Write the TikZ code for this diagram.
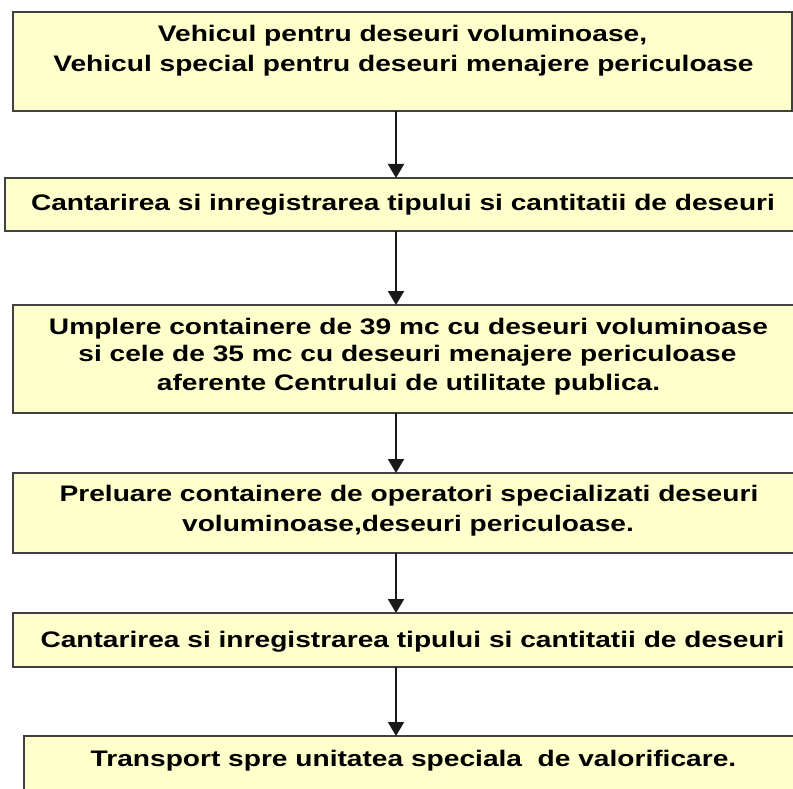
\documentclass[tikz,border=0pt]{standalone}
\usepackage{fontspec}
\setmainfont{Liberation Sans}[FakeStretch=1.25]
\usetikzlibrary{arrows.meta}
\definecolor{boxfill}{HTML}{FFFFCC}
\definecolor{boxline}{HTML}{404040}
\definecolor{arrline}{HTML}{1A1A1A}
\begin{document}
\begin{tikzpicture}[x=1pt,y=-1pt,
  stepbox/.style={draw=boxline,fill=boxfill,line width=2pt,inner sep=0pt,outer sep=0pt,rectangle},
  linetxt/.style={anchor=base,inner sep=0pt,font=\fontsize{22.5}{30}\selectfont\bfseries},
  arr/.style={draw=arrline,line width=2pt,-{Triangle[width=16pt,length=14pt]}}]
\clip (0,0) rectangle (793,789);
\fill[white] (0,0) rectangle (793,789);
\coordinate (ax) at (396,0);
% boxes
\node[stepbox,minimum width=779pt,minimum height=99pt] (b1) at (402.5,61.5) {};
\node[stepbox,minimum width=796pt,minimum height=53pt] (b2) at (403,204.5) {};
\node[stepbox,minimum width=790pt,minimum height=108pt] (b3) at (408,359) {};
\node[stepbox,minimum width=791pt,minimum height=80pt] (b4) at (408.5,513) {};
\node[stepbox,minimum width=799pt,minimum height=54pt] (b5) at (412.5,640) {};
\node[stepbox,minimum width=779pt,minimum height=64pt] (b6) at (413.5,768) {};
% texts
\node[linetxt] (t1a) at (402.5,41.7) {Vehicul pentru deseuri voluminoase,};
\node[linetxt] (t1b) at (403.5,71.7) {Vehicul special pentru deseuri menajere periculoase};
\node[linetxt] (t2) at (403,210.7) {Cantarirea si inregistrarea tipului si cantitatii de deseuri};
\node[linetxt] (t3a) at (408.5,334.3) {Umplere containere de 39 mc cu deseuri voluminoase};
\node[linetxt] (t3b) at (407.5,361.7) {si cele de 35 mc cu deseuri menajere periculoase};
\node[linetxt] (t3c) at (408.5,390) {aferente Centrului de utilitate publica.};
\node[linetxt] (t4a) at (409,501.7) {Preluare containere de operatori specializati deseuri};
\node[linetxt] (t4b) at (408,531.7) {voluminoase,deseuri periculoase.};
\node[linetxt] (t5) at (412.5,647.3) {Cantarirea si inregistrarea tipului si cantitatii de deseuri};
\node[linetxt] (t6) at (413.5,766.7) {Transport spre unitatea speciala\ \ de valorificare.};
% arrows
\draw[arr] (b1.south -| ax) -- (b2.north -| ax);
\draw[arr] (b2.south -| ax) -- (b3.north -| ax);
\draw[arr] (b3.south -| ax) -- (b4.north -| ax);
\draw[arr] (b4.south -| ax) -- (b5.north -| ax);
\draw[arr] (b5.south -| ax) -- (b6.north -| ax);
\end{tikzpicture}
\end{document}
